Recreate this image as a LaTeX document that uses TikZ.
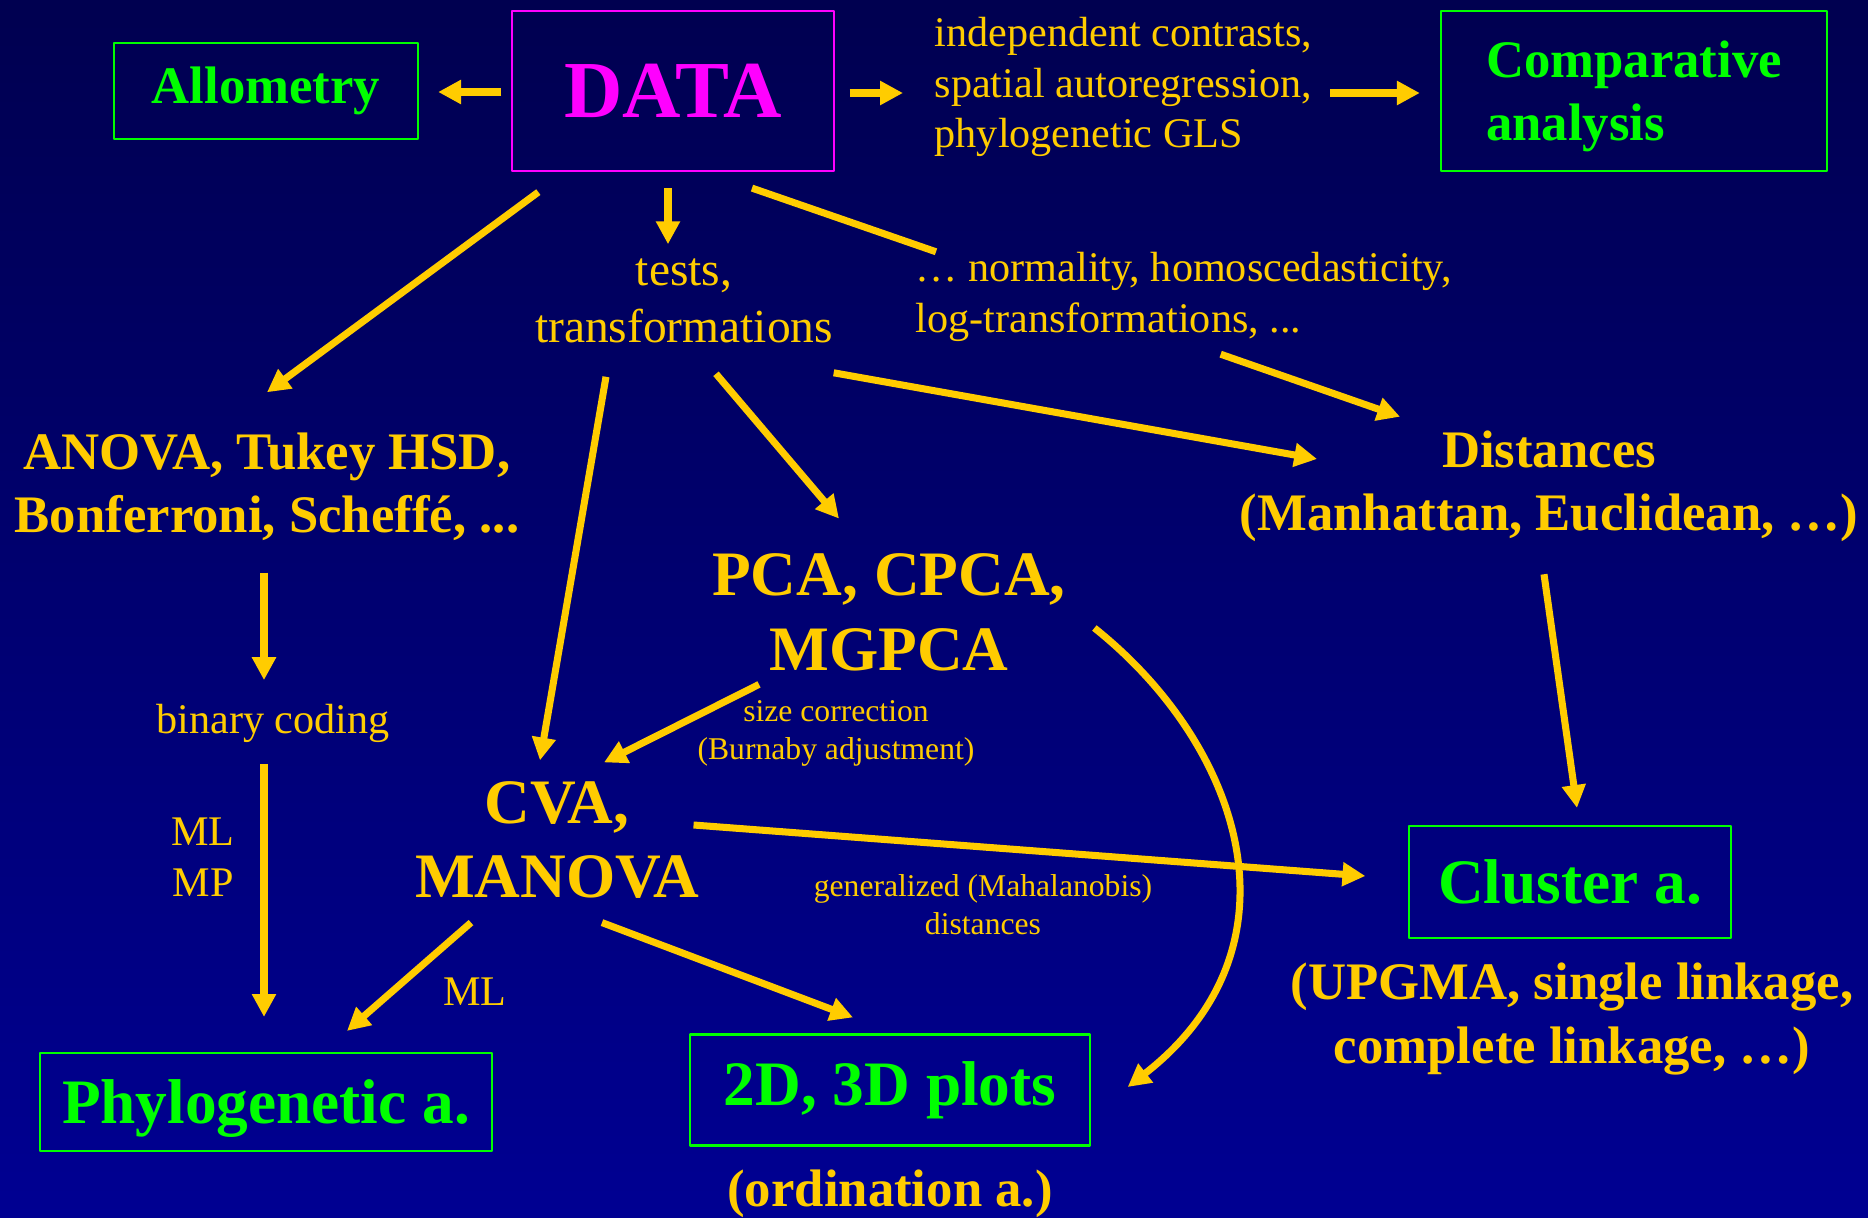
\documentclass[tikz,border=0pt]{standalone}
\usepackage{fontspec}
\setmainfont{Liberation Serif}
\usetikzlibrary{arrows.meta}
\definecolor{arrowgold}{RGB}{255,204,0}
\definecolor{boxgreen}{RGB}{0,255,0}
\definecolor{datapink}{RGB}{255,0,255}
\definecolor{navytop}{RGB}{0,0,80}
\definecolor{navybot}{RGB}{0,0,146}
\tikzset{
  flow/.style={->,line width=2pt,draw=arrowgold},
  box/.style={draw=boxgreen,line width=0.6pt,text=boxgreen,inner sep=0pt},
  big/.style={font=\fontsize{18}{21.3}\selectfont\bfseries},
  head/.style={big,text=arrowgold,align=center,inner sep=0pt},
  mid/.style={font=\fontsize{15}{18}\selectfont\bfseries,text=arrowgold,align=center,inner sep=0pt},
  note/.style={font=\fontsize{12}{14.4}\selectfont,text=arrowgold,inner sep=0pt},
  fine/.style={font=\fontsize{9}{10.8}\selectfont,text=arrowgold,align=center,inner sep=0pt}
}
\begin{document}
\begin{tikzpicture}[line join=round,>={Triangle[length=6.5pt,width=6.5pt]},x=0.01cm,y=-0.01cm]
\shade[top color=navytop,bottom color=navybot] (0,0) rectangle (1868,1218);
\useasboundingbox (0,0) rectangle (1868,1218);
\node[draw=datapink,line width=0.6pt,text=datapink,minimum width=3.21cm,minimum height=1.6cm,font=\fontsize{23}{27}\selectfont\bfseries] (data) at (673,91) {DATA};
\node[box,minimum width=3.04cm,minimum height=0.96cm,font=\fontsize{15}{18}\selectfont\bfseries] (allo) at (266,91) {Allometry};
\node[box,minimum width=3.86cm,minimum height=1.6cm,text depth=0pt,align=left,font=\fontsize{15}{18}\selectfont\bfseries] (comp) at (1634,91) {Comparative\\analysis};
\node[note,anchor=west,align=left] (indep) at (934,87) {independent contrasts,\\spatial autoregression,\\phylogenetic GLS};
\node[font=\fontsize{13.5}{16.2}\selectfont,text=arrowgold,align=center,inner sep=0pt] (tests) at (684,301) {tests,\\transformations};
\node[note,anchor=west,align=left] (norm) at (915,297) {… normality, homoscedasticity,\\log-transformations, ...};
\node[mid] (anova) at (267,487) {ANOVA, Tukey HSD,\\Bonferroni, Scheffé, ...};
\node[mid] (dist) at (1549,486) {Distances\\(Manhattan, Euclidean, …)};
\node[head] (pca) at (889,612) {PCA, CPCA,\\MGPCA};
\node[head] (cva) at (557,840) {CVA,\\MANOVA};
\node[note] (binary) at (273,723) {binary coding};
\node[note,align=center] (mlmp) at (203,857) {ML\\MP};
\node[fine] (sizec) at (836,733) {size correction\\(Burnaby adjustment)};
\node[fine] (gen) at (983,905) {generalized (Mahalanobis)\\distances};
\node[note] (ml) at (475,992) {ML};
\node[box,big,minimum width=3.21cm,minimum height=1.12cm] (cluster) at (1570,882) {Cluster a.};
\node[mid] (upgma) at (1572,1019) {(UPGMA, single linkage,\\complete linkage, …)};
\node[box,big,minimum width=4.52cm,minimum height=0.98cm,text depth=0pt] (phylo) at (266,1102) {Phylogenetic a.};
\node[box,big,minimum width=3.99cm,minimum height=1.11cm] (plots) at (890,1090) {2D, 3D plots};
\node[mid] (ordin) at (890,1194) {(ordination a.)};
\draw[flow] ([shift={(-10,1)}]data.west) -- ([shift={(19,1)}]allo.east);
\draw[flow] ([shift={(15,2)}]data.east) -- ([shift={(-31,6)}]indep.west);
\draw[flow] ([shift={(17,6)}]indep.east) -- ([shift={(-20,2)}]comp.west);
\draw[flow] ([shift={(27,20)}]data.south west) -- ([shift={(0,-40)}]anova.north);
\draw[flow] ([shift={(-5,16)}]data.south) -- ([shift={(-16,-14)}]tests.north);
\draw[line width=2pt,draw=arrowgold] ([shift={(79,16)}]data.south) -- ([shift={(21,0)}]norm.north west);
\draw[flow] ([shift={(37,12)}]norm.south) -- ([shift={(161,-13)}]dist.north west);
\draw[flow] ([shift={(0,29)}]tests.south east) -- ([shift={(78,-27)}]dist.west);
\draw[flow] ([shift={(-78,33)}]tests.south) -- ([shift={(-17,-20)}]cva.north);
\draw[flow] ([shift={(32,30)}]tests.south) -- ([shift={(-50,-34)}]pca.north);
\draw[flow] ([shift={(-3,31)}]anova.south) -- ([shift={(-9,-23)}]binary.north);
\draw[flow] ([shift={(-9,21)}]binary.south) -- ([shift={(-2,-35)}]phylo.north);
\draw[flow] ([shift={(-130,13)}]pca.south) -- ([shift={(47,-18)}]cva.north);
\draw[flow] ([shift={(28,16)}]pca.east) .. controls +(148,118) and +(180,-140) .. ([shift={(37,-3)}]plots.east);
\draw[flow] ([shift={(-6,-15)}]cva.east) -- ([shift={(-43,-6)}]cluster.west);
\draw[flow] ([shift={(-5,32)}]dist.south) -- ([shift={(7,-17)}]cluster.north);
\draw[flow] ([shift={(-86,23)}]cva.south) -- ([shift={(81,-21)}]phylo.north);
\draw[flow] ([shift={(45,23)}]cva.south) -- ([shift={(-37,-16)}]plots.north);
\end{tikzpicture}
\end{document}
